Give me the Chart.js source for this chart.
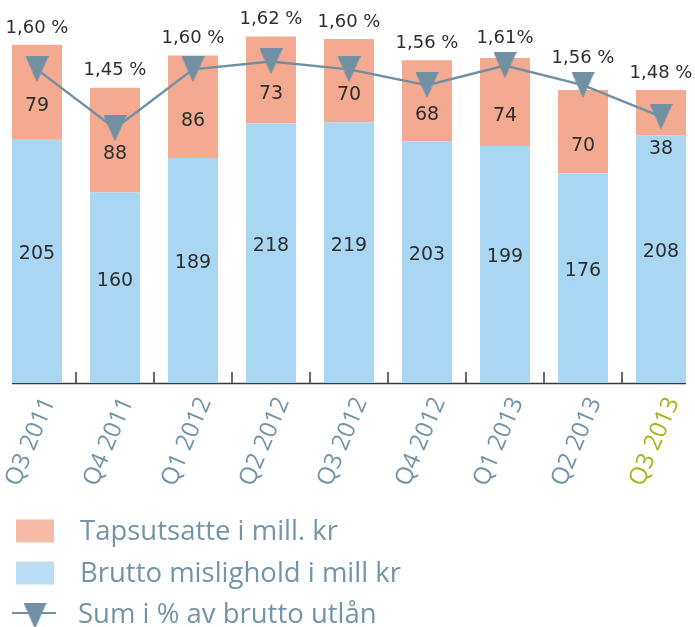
<!DOCTYPE html>
<html>
<head>
<meta charset="utf-8">
<script src="https://cdn.jsdelivr.net/npm/chart.js@4.4.1/dist/chart.umd.min.js"></script>
<style>
html, body { margin: 0; padding: 0; background: #fff; overflow: hidden; }
#wrap { position: absolute; left: -2px; top: 0; width: 702px; height: 627px; }
</style>
</head>
<body>
<div id="wrap"><canvas id="chart_mislighold"></canvas></div>
<script>
// data
var quarters = ['Q3 2011', 'Q4 2011', 'Q1 2012', 'Q2 2012', 'Q3 2012', 'Q4 2012', 'Q1 2013', 'Q2 2013', 'Q3 2013'];
var bruttoMislighold = [205, 160, 189, 218, 219, 203, 199, 176, 208];
var tapsutsatte = [79, 88, 86, 73, 70, 68, 74, 70, 38];
var sumProsent = [1.60, 1.45, 1.60, 1.62, 1.60, 1.56, 1.61, 1.56, 1.48];
var prosentTekst = ['1,60 %', '1,45 %', '1,60 %', '1,62 %', '1,60 %', '1,56 %', '1,61%', '1,56 %', '1,48 %'];

var SALMON = '#f4aa90';
var BLUE = '#a8d6f3';
var SLATE = '#7190a3';
var TEXT_SLATE = '#7395a8';
var LIME = '#a6b520';
var THIN_FONT = '"Open Sans", "Lato", sans-serif';

function triangleDown(w, h, color) {
    var c = document.createElement('canvas');
    c.width = w;
    c.height = h;
    var g = c.getContext('2d');
    g.fillStyle = color;
    g.beginPath();
    g.moveTo(0, 0);
    g.lineTo(w, 0);
    g.lineTo(w / 2, h);
    g.closePath();
    g.fill();
    return c;
}
var marker = triangleDown(23, 26, SLATE);

var decorations = {
    id: 'decorations',
    beforeDatasetsDraw: function(chart) {
        var ctx = chart.ctx;
        var x = chart.scales.x;
        var bars = chart.getDatasetMeta(0).data;
        var bottom = chart.chartArea.bottom;
        ctx.save();
        ctx.strokeStyle = '#3a3a3a';
        ctx.lineWidth = 1.5;
        ctx.beginPath();
        ctx.moveTo(bars[0].x - bars[0].width / 2, bottom + 0.5);
        ctx.lineTo(bars[bars.length - 1].x + bars[bars.length - 1].width / 2, bottom + 0.5);
        for (var i = 0; i < quarters.length - 1; i++) {
            var mid = Math.round((x.getPixelForValue(i) + x.getPixelForValue(i + 1)) / 2);
            ctx.moveTo(mid, bottom);
            ctx.lineTo(mid, bottom - 11);
        }
        ctx.stroke();
        ctx.restore();
    },
    afterDatasetsDraw: function(chart) {
        var ctx = chart.ctx;
        var blue = chart.getDatasetMeta(0).data;
        var salmon = chart.getDatasetMeta(1).data;
        var points = chart.getDatasetMeta(2).data;
        ctx.save();
        ctx.fillStyle = '#2e2e2e';
        ctx.textAlign = 'center';
        ctx.textBaseline = 'middle';
        for (var i = 0; i < quarters.length; i++) {
            var b = blue[i], s = salmon[i], p = points[i];
            ctx.font = '19px "DejaVu Sans"';
            ctx.fillText(String(bruttoMislighold[i]), b.x, (b.y + b.base) / 2 - 7);
            var ty = (s.y + s.base) / 2 + 14;
            if (Math.abs(ty - p.y) < 22) ty = p.y + 32;
            ctx.fillText(String(tapsutsatte[i]), s.x, ty);
            ctx.font = '18px "DejaVu Sans"';
            var py = Math.min(s.y - 17, p.y - 13 - 14);
            ctx.fillText(prosentTekst[i], s.x, py);
        }
        ctx.restore();
    },
    afterDraw: function(chart) {
        var ctx = chart.ctx;
        var ds = chart.data.datasets;
        var rows = [
            { ds: ds[1], y: 531 },
            { ds: ds[0], y: 573 },
            { ds: ds[2], y: 614 }
        ];
        ctx.save();
        ctx.font = '27.5px ' + THIN_FONT;
        ctx.textBaseline = 'middle';
        ctx.textAlign = 'left';
        rows.forEach(function(r) {
            if (r.ds.type === 'line') {
                ctx.strokeStyle = SLATE;
                ctx.lineWidth = 2;
                ctx.beginPath();
                ctx.moveTo(14, r.y - 1);
                ctx.lineTo(58, r.y - 1);
                ctx.stroke();
                ctx.drawImage(marker, 37 - 11.5, r.y - 11, 23, 26);
                ctx.fillStyle = TEXT_SLATE;
                ctx.fillText(r.ds.label, 80, r.y + 1);
            } else {
                ctx.globalAlpha = 0.8;
                ctx.fillStyle = r.ds.backgroundColor;
                ctx.fillRect(18, r.y - 11.5, 38, 23);
                ctx.globalAlpha = 1;
                ctx.fillStyle = TEXT_SLATE;
                ctx.fillText(r.ds.label, 82, r.y + 1);
            }
        });
        ctx.restore();
    }
};

var chart_mislighold = new Chart(document.getElementById('chart_mislighold'), {
    type: 'bar',
    data: {
        labels: quarters,
        datasets: [
            {
                label: 'Brutto mislighold i mill kr',
                data: bruttoMislighold,
                backgroundColor: BLUE,
                yAxisID: 'y',
                order: 1
            },
            {
                label: 'Tapsutsatte i mill. kr',
                data: tapsutsatte,
                backgroundColor: SALMON,
                yAxisID: 'y',
                order: 2
            },
            {
                type: 'line',
                label: 'Sum i % av brutto utlån',
                data: sumProsent,
                borderColor: SLATE,
                borderWidth: 2.5,
                pointStyle: marker,
                pointRadius: 12,
                yAxisID: 'y1',
                clip: false,
                order: 0
            }
        ]
    },
    options: {
        animation: false,
        responsive: true,
        maintainAspectRatio: false,
        datasets: {
            bar: {
                categoryPercentage: 1,
                barPercentage: 0.641,
                borderWidth: 0
            }
        },
        layout: {
            autoPadding: false,
            padding: { top: 2, left: 0, right: 0, bottom: 0 }
        },
        plugins: {
            legend: { display: false },
            tooltip: { enabled: false }
        },
        scales: {
            x: {
                stacked: true,
                grid: { display: false, drawTicks: false },
                border: { display: false },
                ticks: {
                    autoSkip: false,
                    minRotation: 67,
                    maxRotation: 67,
                    padding: 10,
                    labelOffset: 12,
                    font: { family: THIN_FONT, size: 24 },
                    color: function(c) {
                        return c.index === quarters.length - 1 ? LIME : TEXT_SLATE;
                    }
                },
                afterFit: function(scale) {
                    scale.height = 244;
                    scale.paddingLeft = 0;
                    scale.paddingRight = 0;
                }
            },
            y: {
                stacked: true,
                display: false,
                min: 0,
                max: 320
            },
            y1: {
                display: false,
                min: 0.804,
                max: 1.771
            }
        }
    },
    plugins: [decorations]
});
</script>
</body>
</html>
